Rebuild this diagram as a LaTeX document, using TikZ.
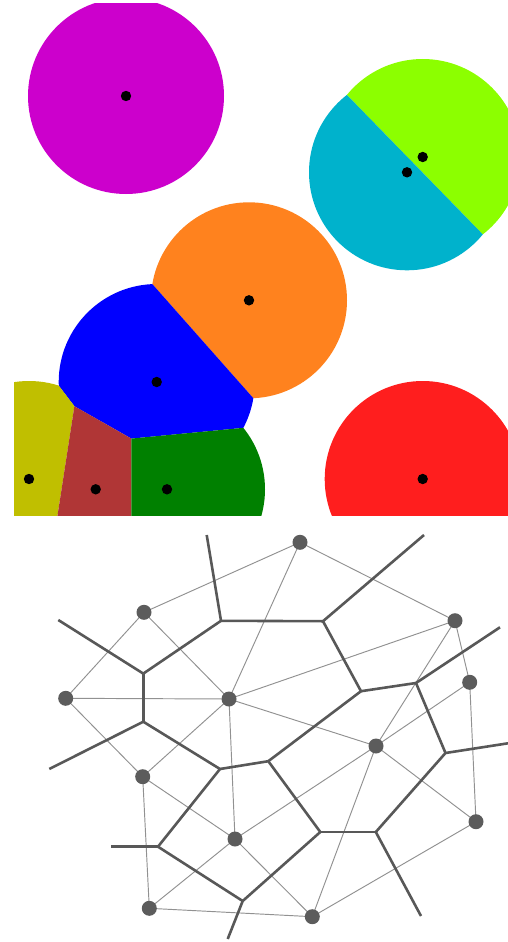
\documentclass[tikz,border=0pt]{standalone}
\usetikzlibrary{calc,backgrounds}
\definecolor{cmag}{RGB}{204,0,204}
\definecolor{clime}{RGB}{140,255,0}
\definecolor{ccyan}{RGB}{0,178,204}
\definecolor{corange}{RGB}{255,130,30}
\definecolor{cblue}{RGB}{0,0,255}
\definecolor{colive}{RGB}{192,191,0}
\definecolor{cbrown}{RGB}{176,54,54}
\definecolor{cgreen}{RGB}{0,128,0}
\definecolor{cred}{RGB}{255,30,30}
\definecolor{sitegray}{RGB}{92,92,92}
\definecolor{thingray}{RGB}{145,145,145}
\definecolor{thickgray}{RGB}{88,88,88}
\newcommand\halfclip[2]{%
  \coordinate (hm) at ($(#1)!0.5!(#2)$);
  \coordinate (ha) at ($(hm)!900pt!90:(#2)$);
  \coordinate (hb) at ($(hm)!900pt!-90:(#2)$);
  \coordinate (hd) at ($(hm)!-900pt!(#2)$);
  \clip (ha) -- (hb) -- ($(hb)+(hd)-(hm)$) -- ($(ha)+(hd)-(hm)$) -- cycle;
}
\tikzset{
  site/.style={circle,fill=sitegray,inner sep=0pt,minimum size=15pt},
  del/.style={draw=thingray,line width=0.95pt},
  vor/.style={draw=thickgray,line width=2.6pt,line join=round},
  blackdot/.style={fill=black}
}
\begin{document}
\begin{tikzpicture}[x=1pt,y=-1pt]
\useasboundingbox (0,0) rectangle (508,942);
% ---------- top: disks clipped to Voronoi cells ----------
\coordinate (pm) at (126,96);
\coordinate (pl) at (422.7,157);
\coordinate (pc) at (407,172.3);
\coordinate (po) at (249,300.3);
\coordinate (pb) at (156.7,382);
\coordinate (py) at (29,479);
\coordinate (pr) at (95.7,489.3);
\coordinate (pg) at (167,489.3);
\coordinate (pd) at (422.7,479);
\def\rad{98}
\begin{scope}
  \clip (14,4) rectangle (508,515);
  \fill[cmag] (pm) circle (\rad);
  \fill[cred] (pd) circle (\rad);
  \begin{scope}
    \halfclip{pl}{pc}
    \fill[clime] (pl) circle (\rad);
  \end{scope}
  \begin{scope}
    \halfclip{pc}{pl}
    \halfclip{pc}{po}
    \fill[ccyan] (pc) circle (\rad);
  \end{scope}
  \begin{scope}
    \halfclip{po}{pb}
    \halfclip{po}{pc}
    \halfclip{po}{pg}
    \fill[corange] (po) circle (\rad);
  \end{scope}
  \begin{scope}
    \halfclip{pb}{po}
    \halfclip{pb}{py}
    \halfclip{pb}{pr}
    \halfclip{pb}{pg}
    \fill[cblue] (pb) circle (\rad);
  \end{scope}
  \begin{scope}
    \halfclip{py}{pb}
    \halfclip{py}{pr}
    \halfclip{py}{pg}
    \fill[colive] (py) circle (\rad);
  \end{scope}
  \begin{scope}
    \halfclip{pr}{pb}
    \halfclip{pr}{py}
    \halfclip{pr}{pg}
    \fill[cbrown] (pr) circle (\rad);
  \end{scope}
  \begin{scope}
    \halfclip{pg}{pb}
    \halfclip{pg}{py}
    \halfclip{pg}{pr}
    \halfclip{pg}{po}
    \fill[cgreen] (pg) circle (\rad);
  \end{scope}
  \foreach \p in {pm,pl,pc,po,pb,py,pr,pg,pd}
    \fill[blackdot] (\p) circle (5.2);
\end{scope}
% ---------- bottom: Voronoi diagram and Delaunay triangulation ----------
\node[site] (A) at (300,542.3) {};
\node[site] (B) at (144,612.3) {};
\node[site] (C) at (455,620.7) {};
\node[site] (D) at (65.7,698.3) {};
\node[site] (E) at (229,699) {};
\node[site] (F) at (469.7,682.3) {};
\node[site] (G) at (376,746) {};
\node[site] (H) at (142.7,776.7) {};
\node[site] (I) at (476,821.7) {};
\node[site] (J) at (235,839) {};
\node[site] (K) at (149.3,908.3) {};
\node[site] (L) at (312.3,916.7) {};
% Voronoi vertices
\coordinate (v1) at (221,620.8);
\coordinate (v2) at (323,621.2);
\coordinate (v3) at (143.3,673.6);
\coordinate (v4) at (143.3,721.7);
\coordinate (v5) at (361,691.2);
\coordinate (v6) at (416,683);
\coordinate (v7) at (445.5,753);
\coordinate (v8) at (268.3,761.2);
\coordinate (v9) at (220,769);
\coordinate (v10) at (158,846.7);
\coordinate (v11) at (320.3,832);
\coordinate (v12) at (375.8,832);
\coordinate (v13) at (242.7,901);
% ray ends
\coordinate (r1) at (206.7,535);
\coordinate (r2) at (424,535);
\coordinate (r3) at (58.3,620);
\coordinate (r4) at (500,627.3);
\coordinate (r5) at (508,743.3);
\coordinate (r6) at (49.3,769);
\coordinate (r7) at (111.3,846.7);
\coordinate (r8) at (421,916);
\coordinate (r9) at (227.7,939);
\begin{scope}[on background layer]
% Delaunay edges
\foreach \a/\b in {A/B,A/C,A/E,B/D,B/E,D/E,C/E,C/F,C/G,F/G,E/G,D/H,E/H,E/J,F/I,
                   H/K,H/J,K/J,K/L,J/L,J/G,G/L,G/I,L/I}
  \draw[del] (\a.center) -- (\b.center);
% Voronoi edges
\foreach \a/\b in {v1/r1,v1/v2,v1/v3,v2/r2,v2/v5,v3/r3,v3/v4,v4/r6,v4/v9,v5/v6,
                   v5/v8,v6/r4,v6/v7,v7/r5,v9/v8,v9/v10,v10/r7,v10/v13,v8/v11,
                   v11/v12,v12/v7,v12/r8,v13/v11,v13/r9}
  \draw[vor] (\a) -- (\b);
\end{scope}
\end{tikzpicture}
\end{document}
